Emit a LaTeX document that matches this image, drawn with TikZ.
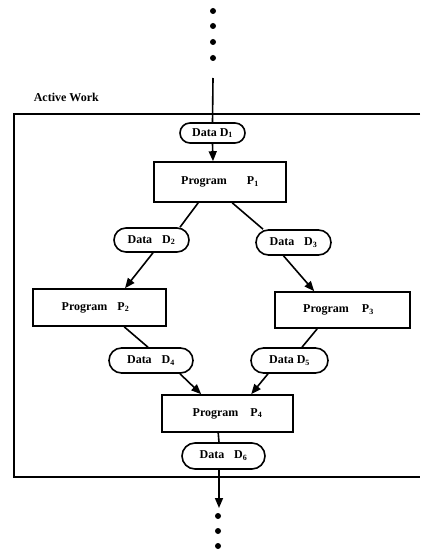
\documentclass[tikz,border=0pt]{standalone}
\usepackage{fontspec}
\setmainfont{Liberation Serif}
\usetikzlibrary{arrows.meta,shapes.misc}
\begin{document}
\begin{tikzpicture}[x=1pt,y=-1pt,line width=1.6pt,
  font=\fontsize{12}{14}\selectfont\bfseries,
  proc/.style={draw,rectangle,inner sep=0pt},
  data/.style={draw,rounded rectangle,inner sep=0pt},
  flow/.style={-{Triangle[length=10pt,width=8pt]}},
  dot/.style={fill=black}]
\useasboundingbox (0,0) rectangle (420,553);

% enclosing "Active Work" frame (open on the right)
\draw (420,114) -- (14,114) -- (14,477) -- (420,477);
\node[anchor=west,inner sep=0pt] (lbl) at (33,97) {Active Work};

% incoming continuation
\foreach \y in {11,26,42,58} \fill[dot] (213,\y) circle (3pt);
\coordinate (in) at (213,78);

% data and program nodes
\node[data,minimum width=65pt,minimum height=20pt] (D1) at (212.5,133) {Data D\textsubscript{1}};
\node[proc,minimum width=132pt,minimum height=40pt] (P1) at (220,182) {Program\hspace{20pt}P\textsubscript{1}};
\node[data,minimum width=75pt,minimum height=24pt] (D2) at (151.5,240) {Data\hspace{10pt}D\textsubscript{2}};
\node[data,minimum width=75pt,minimum height=25pt] (D3) at (293.5,242.5) {Data\hspace{10pt}D\textsubscript{3}};
\node[proc,minimum width=133pt,minimum height=37pt] (P2) at (99.5,307.5) {\hspace{-8pt}Program\hspace{10pt}P\textsubscript{2}};
\node[proc,minimum width=135pt,minimum height=36pt] (P3) at (342.5,310) {\hspace{-8pt}Program\hspace{13pt}P\textsubscript{3}};
\node[data,minimum width=84pt,minimum height=25pt] (D4) at (151,360.5) {Data\hspace{10pt}D\textsubscript{4}};
\node[data,minimum width=77pt,minimum height=25pt] (D5) at (289.5,360.5) {Data D\textsubscript{5}};
\node[proc,minimum width=131pt,minimum height=37pt] (P4) at (227.5,413.5) {Program\hspace{12pt}P\textsubscript{4}};
\node[data,minimum width=83pt,minimum height=26pt] (D6) at (223.5,456) {Data\hspace{10pt}D\textsubscript{6}};

% outgoing continuation
\coordinate (out) at (219,508);
\foreach \y in {516,531,546} \fill[dot] (218,\y) circle (3pt);

% connectors
\draw (in) -- (D1.north);
\draw[flow] (D1.south) -- ([xshift=-7pt]P1.north);
\draw ([xshift=45pt]P1.south west) -- ([xshift=28.5pt]D2.north);
\draw ([xshift=79pt]P1.south west) -- ([xshift=-30.5pt]D3.north);
\draw[flow] ([xshift=1.5pt]D2.south) -- ([xshift=25.5pt]P2.north);
\draw[flow] ([xshift=-10pt]D3.south) -- ([xshift=40pt]P3.north west);
\draw ([xshift=92pt]P2.south west) -- ([xshift=-3pt]D4.north);
\draw ([xshift=43pt]P3.south west) -- ([xshift=12.5pt]D5.north);
\draw[flow] ([xshift=29pt]D4.south) -- ([xshift=40pt]P4.north west);
\draw[flow] ([xshift=-21.5pt]D5.south) -- ([xshift=90pt]P4.north west);
\draw ([xshift=57pt]P4.south west) -- ([xshift=-4.5pt]D6.north);
\draw[flow] ([xshift=-4.5pt]D6.south) -- (out);
\end{tikzpicture}
\end{document}
